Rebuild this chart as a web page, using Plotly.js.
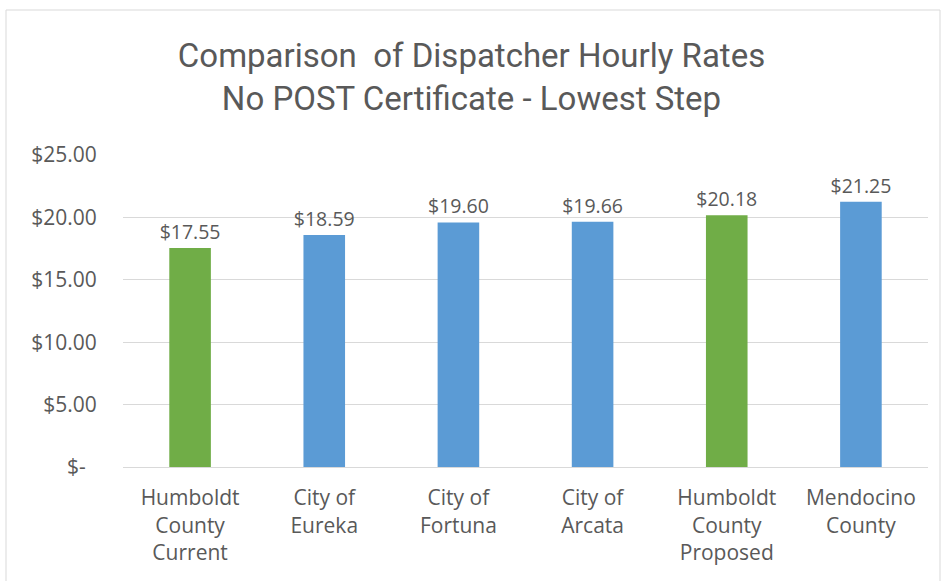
<!DOCTYPE html>
<html>
<head>
<meta charset="utf-8">
<script src="https://cdn.plot.ly/plotly-3.0.1.min.js"></script>
<style>html,body{margin:0;padding:0;background:#fff;}#chart{width:943px;height:581px;}</style>
</head>
<body>
<div id="chart"></div>
<script>
const categories = ["Humboldt<br>County<br>Current", "City of<br>Eureka", "City of<br>Fortuna", "City of<br>Arcata", "Humboldt<br>County<br>Proposed", "Mendocino<br>County"];
const rates = [17.55, 18.59, 19.60, 19.66, 20.18, 21.25];
const barColors = ["#70AD47", "#5B9BD5", "#5B9BD5", "#5B9BD5", "#70AD47", "#5B9BD5"];
const yTickVals = [0, 5, 10, 15, 20, 25];
const yTickText = ["$-\u00a0\u00a0", "$5.00", "$10.00", "$15.00", "$20.00", "$25.00"];
const titleText = "Comparison  of Dispatcher Hourly Rates<br>No POST Certificate - Lowest Step";

const gray = "#595959";
const trace = {
  type: "bar",
  x: categories,
  y: rates,
  marker: {color: barColors},
  width: 0.31,
  text: rates.map(v => "$" + v.toFixed(2)),
  textposition: "outside",
  constraintext: "none",
  textfont: {family: "Open Sans, sans-serif", size: 19.5, color: gray},
  cliponaxis: false,
  hoverinfo: "none"
};

const L = 123, R = 15, T = 155, B = 114, W = 943, H = 581;
const pw = W - L - R, ph = H - T - B;

const layout = {
  width: W, height: H,
  margin: {l: L, r: R, t: T, b: B, pad: 0},
  paper_bgcolor: "#fff", plot_bgcolor: "#fff",
  showlegend: false,
  bargap: 0.69,
  title: {
    text: titleText,
    font: {family: "Roboto, sans-serif", size: 33, color: gray},
    x: 0.5, xanchor: "center",
    y: 1 - 67 / H, yanchor: "top", yref: "container"
  },
  xaxis: {
    type: "category",
    tickfont: {family: "Open Sans, sans-serif", size: 21, color: gray},
    showgrid: false,
    showline: true, linecolor: "#D9D9D9", linewidth: 1,
    ticks: "", ticklen: 0,
    ticklabelstandoff: 12,
    fixedrange: true
  },
  yaxis: {
    range: [0, 25],
    tickvals: yTickVals,
    ticktext: yTickText,
    tickfont: {family: "Open Sans, sans-serif", size: 21, color: gray},
    showgrid: true, gridcolor: "#D9D9D9", gridwidth: 1,
    zeroline: true, zerolinecolor: "#D9D9D9", zerolinewidth: 1,
    showline: false, ticks: "outside", ticklen: 21, tickcolor: "rgba(0,0,0,0)",
    fixedrange: true
  },
  shapes: [{
    type: "rect", xref: "paper", yref: "paper",
    x0: (6 - L) / pw, x1: (940 - L) / pw,
    y0: (H - B - 590) / ph, y1: (H - B - 10) / ph,
    line: {color: "#D9D9D9", width: 1}, fillcolor: "rgba(0,0,0,0)", layer: "below"
  }]
};

Plotly.newPlot("chart", [trace], layout, {staticPlot: true, displayModeBar: false});
</script>
</body>
</html>
